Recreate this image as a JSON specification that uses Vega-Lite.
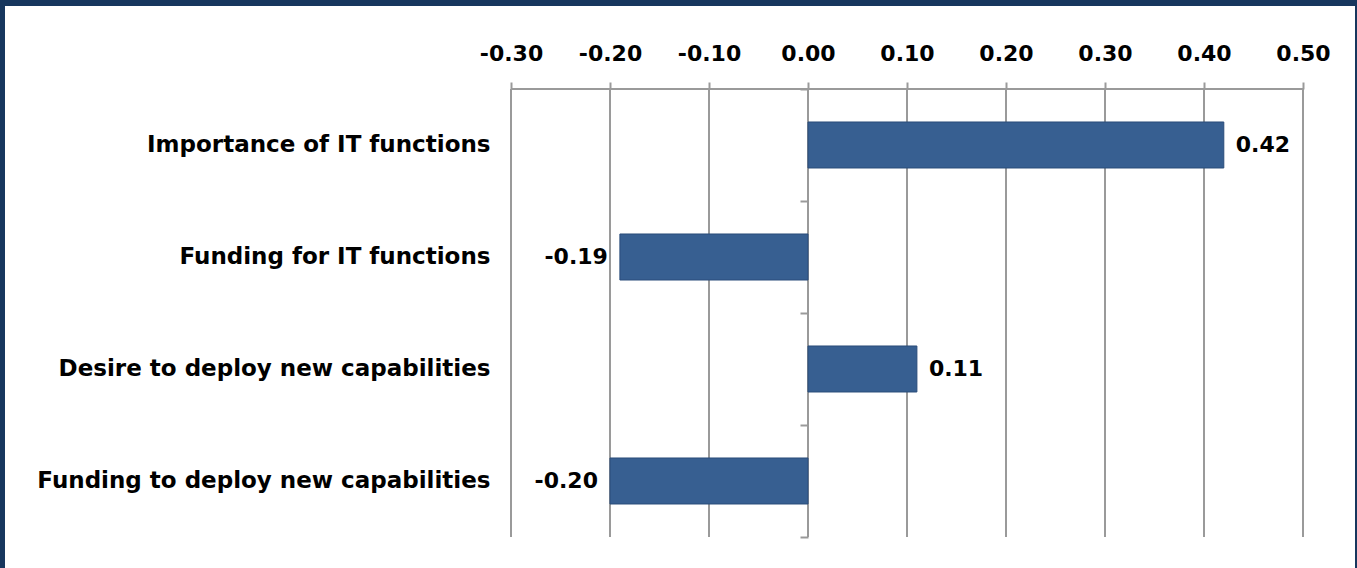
{
  "$schema": "https://vega.github.io/schema/vega-lite/v6.json",
  "width": 1350,
  "height": 562,
  "autosize": {"type": "none"},
  "padding": {"left": 5, "top": 6, "right": 2, "bottom": 0},
  "background": "#17375E",
  "config": {
    "view": {"fill": "#FFFFFF", "stroke": null},
    "font": "DejaVu Sans",
    "locale": {
      "number": {"decimal": ".", "thousands": ",", "grouping": [3], "currency": ["$", ""], "minus": "-"}
    }
  },
  "datasets": {
    "scores": [
      {"category": "Importance of IT functions", "value": 0.42},
      {"category": "Funding for IT functions", "value": -0.19},
      {"category": "Desire to deploy new capabilities", "value": 0.11},
      {"category": "Funding to deploy new capabilities", "value": -0.20}
    ],
    "ticks": [
      {"tick": -0.3}, {"tick": -0.2}, {"tick": -0.1}, {"tick": 0.0},
      {"tick": 0.1}, {"tick": 0.2}, {"tick": 0.3}, {"tick": 0.4}, {"tick": 0.5}
    ]
  },
  "layer": [
    {
      "data": {"name": "ticks"},
      "mark": {"type": "rule", "color": "#9A9A9A", "strokeWidth": 2},
      "encoding": {
        "x": {
          "field": "tick",
          "type": "quantitative",
          "scale": {"domain": [-0.811111, 0.552525], "nice": false, "zero": false},
          "axis": {
            "orient": "top",
            "offset": -83,
            "values": [-0.3, -0.2, -0.1, 0, 0.1, 0.2, 0.3, 0.4, 0.5],
            "format": ".2f",
            "grid": false,
            "domain": false,
            "ticks": true,
            "tickSize": 7,
            "tickWidth": 2,
            "tickColor": "#9A9A9A",
            "labelFontSize": 22,
            "labelFontWeight": "bold",
            "labelColor": "#000000",
            "labelBaseline": "alphabetic",
            "labelPadding": 22,
            "labelFlush": false,
            "labelOverlap": false,
            "title": null
          }
        },
        "y": {
          "datum": "Importance of IT functions",
          "type": "nominal",
          "bandPosition": 0,
          "scale": {
            "type": "band",
            "domain": [
              "Importance of IT functions",
              "Funding for IT functions",
              "Desire to deploy new capabilities",
              "Funding to deploy new capabilities"
            ],
            "paddingInner": 0,
            "paddingOuter": 0.5089286,
            "align": 0.72807
          },
          "axis": {
            "orient": "left",
            "offset": -803,
            "domain": false,
            "grid": false,
            "ticks": true,
            "tickBand": "extent",
            "tickSize": 8,
            "tickWidth": 2,
            "tickColor": "#9A9A9A",
            "labelFontSize": 23,
            "labelFontWeight": "bold",
            "labelColor": "#000000",
            "labelPadding": 310,
            "labelLimit": 0,
            "title": null
          }
        },
        "y2": {"datum": "Funding to deploy new capabilities", "bandPosition": 1}
      }
    },
    {
      "data": {"name": "ticks"},
      "mark": {"type": "rule", "color": "#9A9A9A", "strokeWidth": 2},
      "encoding": {
        "x": {"aggregate": "min", "field": "tick", "type": "quantitative"},
        "x2": {"aggregate": "max", "field": "tick"},
        "y": {"datum": "Importance of IT functions", "type": "nominal", "bandPosition": 0}
      }
    },
    {
      "data": {"name": "scores"},
      "mark": {"type": "bar", "size": 46, "color": "#375F91", "stroke": "#2A4C7A", "strokeWidth": 1},
      "encoding": {
        "x": {"field": "value", "type": "quantitative"},
        "x2": {"datum": 0},
        "y": {"field": "category", "type": "nominal", "sort": null}
      }
    },
    {
      "data": {"name": "scores"},
      "transform": [{"filter": "datum.value >= 0"}],
      "mark": {"type": "text", "align": "left", "baseline": "middle", "dx": 12, "fontSize": 22, "fontWeight": "bold", "color": "#000000"},
      "encoding": {
        "x": {"field": "value", "type": "quantitative"},
        "y": {"field": "category", "type": "nominal", "sort": null},
        "text": {"field": "value", "type": "quantitative", "format": ".2f"}
      }
    },
    {
      "data": {"name": "scores"},
      "transform": [{"filter": "datum.value < 0"}],
      "mark": {"type": "text", "align": "right", "baseline": "middle", "dx": -12, "fontSize": 22, "fontWeight": "bold", "color": "#000000"},
      "encoding": {
        "x": {"field": "value", "type": "quantitative"},
        "y": {"field": "category", "type": "nominal", "sort": null},
        "text": {"field": "value", "type": "quantitative", "format": ".2f"}
      }
    }
  ]
}
